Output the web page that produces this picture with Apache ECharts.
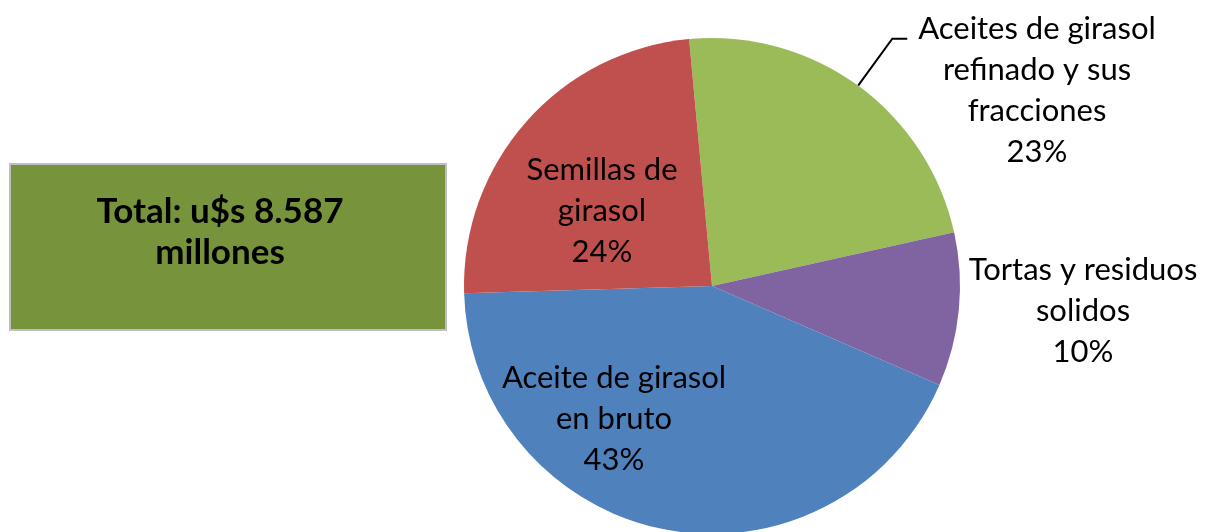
<!DOCTYPE html>
<html>
<head>
<meta charset="utf-8">
<script src="https://cdn.jsdelivr.net/npm/echarts@6/dist/echarts.min.js"></script>
<style>
  html, body { margin: 0; padding: 0; background: #fff; }
  #chart { width: 1205px; height: 532px; }
</style>
</head>
<body>
<div id="chart"></div>
<script>
var chart = echarts.init(document.getElementById("chart"));

// slices, clockwise from the top
var categories = [
  "Aceites de girasol\nrefinado y sus\nfracciones",
  "Tortas y residuos\nsolidos",
  "Aceite de girasol\nen bruto",
  "Semillas de\ngirasol"
];
var shares = [23, 10, 43, 24];
var colors = ["#9BBB59", "#8064A2", "#4F81BD", "#C0504D"];
var totalText = "Total: u$s 8.587\nmillones";

var cx = 712, cy = 286, r = 248;
// label block centres (x, y)
var labelPos = [[1037, 90], [1083, 311], [614, 419], [602, 211]];

var data = [];
for (var i = 0; i < categories.length; i++) {
  data.push({
    name: categories[i],
    value: shares[i],
    itemStyle: { color: colors[i] },
    label: { position: i < 2 ? "outside" : "inside" },
    labelLine: { show: i == 0 }
  });
}

chart.setOption({
  animation: false,
  graphic: [
    {
      type: "rect",
      shape: { x: 10, y: 164, width: 436, height: 166 },
      style: { fill: "#77933C", stroke: "#BFBFBF", lineWidth: 2 }
    },
    {
      type: "text",
      x: 220,
      y: 232,
      style: {
        text: totalText,
        font: "bold 35px Lato",
        lineHeight: 41,
        fill: "#000",
        align: "center",
        verticalAlign: "middle"
      }
    }
  ],
  series: [
    {
      type: "pie",
      center: [cx, cy],
      radius: r,
      startAngle: 95.3,
      clockwise: true,
      data: data,
      label: {
        formatter: "{b}\n{d}%",
        fontFamily: "Lato",
        fontSize: 31,
        lineHeight: 41,
        color: "#000",
        overflow: "none"
      },
      labelLine: {
        length: 58,
        length2: 15,
        lineStyle: { color: "#000", width: 2 }
      },
      labelLayout: function (params) {
        var p = labelPos[params.dataIndex];
        var out = {
          x: p[0],
          y: p[1],
          align: "center",
          verticalAlign: "middle"
        };
        if (params.dataIndex == 0 && params.labelLinePoints) {
          // leader line: out from the slice edge, then a short flat tail
          var a = params.labelLinePoints[0];
          var dx = a[0] - cx, dy = a[1] - cy;
          var d = Math.sqrt(dx * dx + dy * dy);
          var p1 = [cx + dx / d * (r + 58), cy + dy / d * (r + 58)];
          out.labelLinePoints = [
            [cx + dx / d * r, cy + dy / d * r],
            p1,
            [p1[0] + 15, p1[1]]
          ];
        }
        return out;
      },
      emphasis: { disabled: true }
    }
  ]
});
</script>
</body>
</html>
